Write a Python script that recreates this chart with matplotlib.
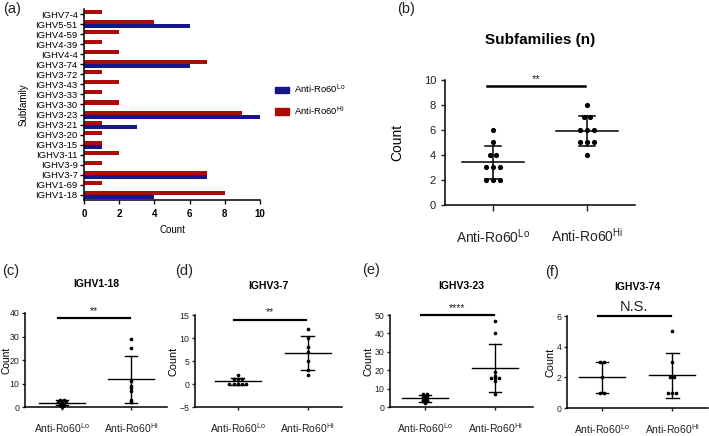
import numpy as np
import matplotlib.pyplot as plt
from matplotlib.patches import Patch

plt.rcParams['font.family'] = ['Liberation Sans', 'DejaVu Sans']
plt.rcParams['mathtext.default'] = 'regular'
plt.rcParams['axes.linewidth'] = 1.1
plt.rcParams['xtick.major.width'] = 1.0
plt.rcParams['ytick.major.width'] = 1.0
plt.rcParams['xtick.major.size'] = 3
plt.rcParams['ytick.major.size'] = 3

# (a) subfamily usage, listed top to bottom as in the figure
subfamilies = ["IGHV7-4", "IGHV5-51", "IGHV4-59", "IGHV4-39", "IGHV4-4",
               "IGHV3-74", "IGHV3-72", "IGHV3-43", "IGHV3-33", "IGHV3-30",
               "IGHV3-23", "IGHV3-21", "IGHV3-20", "IGHV3-15", "IGHV3-11",
               "IGHV3-9", "IGHV3-7", "IGHV1-69", "IGHV1-18"]
count_hi = [1, 4, 2, 1, 2, 7, 1, 2, 1, 2, 9, 1, 1, 1, 2, 1, 7, 1, 8]
count_lo = [0, 6, 0, 0, 0, 6, 0, 0, 0, 0, 10, 3, 0, 1, 0, 0, 7, 0, 4]

groups = [r"Anti-Ro60$^{Lo}$", r"Anti-Ro60$^{Hi}$"]

# (b) number of subfamilies per sample
subfam_lo = [6, 5, 4, 4, 3, 3, 3, 2, 2, 2]
subfam_hi = [8, 7, 7, 6, 6, 6, 5, 5, 5, 4]

# (c)-(f) counts per sample for single subfamilies
ighv1_18_lo = [3, 3, 2, 2, 2, 1, 1, 0]
ighv1_18_hi = [29, 25, 11, 9, 8, 7, 3, 2]
ighv3_7_lo = [2, 1, 1, 1, 0, 0, 0, 0, 0]
ighv3_7_hi = [12, 10, 8, 7, 5, 3, 2]
ighv3_23_lo = [7, 7, 6, 6, 5, 4, 4, 3, 3, 2]
ighv3_23_hi = [47, 40, 19, 17, 16, 16, 16, 14, 7]
ighv3_74_lo = [3, 3, 2, 1, 1]
ighv3_74_hi = [5, 3, 2, 2, 1, 1, 1]

c_lo, c_hi = "#16168c", "#ad0a0a"


def px(x, y):
    # pixel position in the 709x436 canvas -> figure fraction
    return x / 709., 1 - y / 436.


def swarm(vals, step):
    vals = np.asarray(vals, float)
    off = np.zeros_like(vals)
    for v in np.unique(vals):
        idx = np.where(vals == v)[0]
        off[idx] = (np.arange(len(idx)) - (len(idx) - 1) / 2.) * step
    return off


def dotplot(ax, lo, hi, s, step, fs, lw=1.0):
    for i, d in enumerate([lo, hi]):
        d = np.asarray(d, float)
        ax.scatter(i + swarm(d, step), d, s=s, c="k", zorder=3,
                   linewidths=0, clip_on=False)
        m, sd = d.mean(), d.std(ddof=1)
        ax.plot([i - .33, i + .33], [m, m], c="k", lw=lw)
        ax.plot([i, i], [m - sd, m + sd], c="k", lw=lw)
        for y in (m - sd, m + sd):
            ax.plot([i - .09, i + .09], [y, y], c="k", lw=lw)
    ax.set_xticks([0, 1])
    ax.set_xticklabels(groups, fontsize=fs)
    for sp in ["top", "right"]:
        ax.spines[sp].set_visible(False)


def sigbar(ax, y, label, fs, lw=1.6):
    ax.plot([-0.06, 0.98], [y, y], c="k", lw=lw, clip_on=False)
    ax.annotate(label, (0.46, y), xytext=(0, 1.5), textcoords="offset points",
                ha="center", va="bottom", fontsize=fs, color="#222222")


if __name__ == "__main__":

    fig = plt.figure(figsize=(7.09, 4.36), dpi=100)

    # --------------------------------------------------------------
    # (a) bar chart
    ax = fig.add_axes([84 / 709., 1 - 200 / 436., 176 / 709., 191 / 436.])
    ypos = np.arange(len(subfamilies))[::-1]
    ax.barh(ypos + 0.2, count_hi, height=0.4, color=c_hi)
    ax.barh(ypos - 0.2, count_lo, height=0.4, color=c_lo)
    ax.set_yticks(ypos)
    ax.set_yticklabels(subfamilies, fontsize=6.8)
    ax.set_ylim(-0.5, len(subfamilies) - 0.5)
    ax.set_xlim(0, 10)
    ax.set_xticks(range(0, 11, 2))
    ax.set_xticklabels([str(v) for v in range(0, 11, 2)], fontsize=7,
                       fontweight="bold")
    ax.tick_params(axis="y", pad=1.5)
    ax.set_xlabel("Count", fontsize=7, labelpad=4)
    ax.set_ylabel("Subfamily", fontsize=7, labelpad=5)
    for sp in ["top", "right"]:
        ax.spines[sp].set_visible(False)

    fig.legend(handles=[Patch(color=c_lo), Patch(color=c_hi)], labels=groups,
               loc="center left", bbox_to_anchor=px(266, 100), frameon=False,
               fontsize=6.8, handlelength=1.5, handleheight=0.7,
               labelspacing=0.9, handletextpad=0.6)

    # --------------------------------------------------------------
    # (b) subfamilies per sample
    ax = fig.add_axes([445 / 709., 1 - 205 / 436., 190 / 709., 125 / 436.])
    dotplot(ax, subfam_lo, subfam_hi, s=14, step=0.07, fs=10, lw=1.1)
    ax.set_xlim(-0.51, 1.51)
    ax.set_ylim(0, 10)
    ax.set_yticks(range(0, 11, 2))
    ax.tick_params(axis="y", labelsize=8, colors="#222222")
    ax.tick_params(axis="x", pad=12, length=4, colors="#222222")
    ax.set_ylabel("Count", fontsize=10, labelpad=14)
    ax.set_title("Subfamilies (n)", fontsize=11, fontweight="bold", pad=26)
    sigbar(ax, 9.5, "**", 8, lw=1.8)

    # --------------------------------------------------------------
    # (c)-(f) single subfamilies
    panels = [
        # left px, right px, top px, bottom px, xlim, ylim, step, lo, hi, title, sig, bar y
        (25, 167, 313, 407, (-0.54, 1.52), (0, 40), 10, ighv1_18_lo, ighv1_18_hi,
         "IGHV1-18", "**", 38),
        (195, 342, 315, 407, (-0.61, 1.49), (-5, 15), 5, ighv3_7_lo, ighv3_7_hi,
         "IGHV3-7", "**", 14),
        (390, 533, 315, 407, (-0.5, 1.54), (0, 50), 10, ighv3_23_lo, ighv3_23_hi,
         "IGHV3-23", "****", 50),
        (567, 708, 316, 408, (-0.5, 1.51), (0, 6), 2, ighv3_74_lo, ighv3_74_hi,
         "IGHV3-74", "N.S.", 6),
    ]
    for l, r, t, b, xl, yl, st, lo, hi, title, sig, ybar in panels:
        ax = fig.add_axes([l / 709., 1 - b / 436., (r - l) / 709., (b - t) / 436.])
        dotplot(ax, lo, hi, s=7, step=0.06, fs=7.5)
        ax.set_xlim(*xl)
        ax.set_ylim(*yl)
        ax.set_yticks(np.arange(yl[0], yl[1] + 1, st))
        ax.tick_params(axis="y", labelsize=6.3, colors="#222222", length=2.5,
                       pad=1.5)
        ax.tick_params(axis="x", pad=8, colors="#222222", length=2.5)
        ax.set_ylabel("Count", fontsize=7.8, labelpad=1)
        ax.set_title(title, fontsize=7.5, fontweight="bold", pad=19)
        if sig == "N.S.":
            sigbar(ax, ybar, sig, 10.5)
        else:
            sigbar(ax, ybar, sig, 7.5)
        if l < 50:
            # the left-most label sits right at the canvas edge
            ax.set_ylabel("Count", fontsize=7.4)
            ax.yaxis.set_label_coords((11 - l) / (r - l), 0.5)

    # panel letters
    for lab, x, y in [("(a)", 3, 9), ("(b)", 397, 9), ("(c)", 2, 271),
                      ("(d)", 175, 271), ("(e)", 362, 270), ("(f)", 545, 272)]:
        fig.text(*px(x, y), lab, fontsize=10.5, ha="left", va="center",
                 color="#222222")

    plt.savefig("out.png", dpi=100)
